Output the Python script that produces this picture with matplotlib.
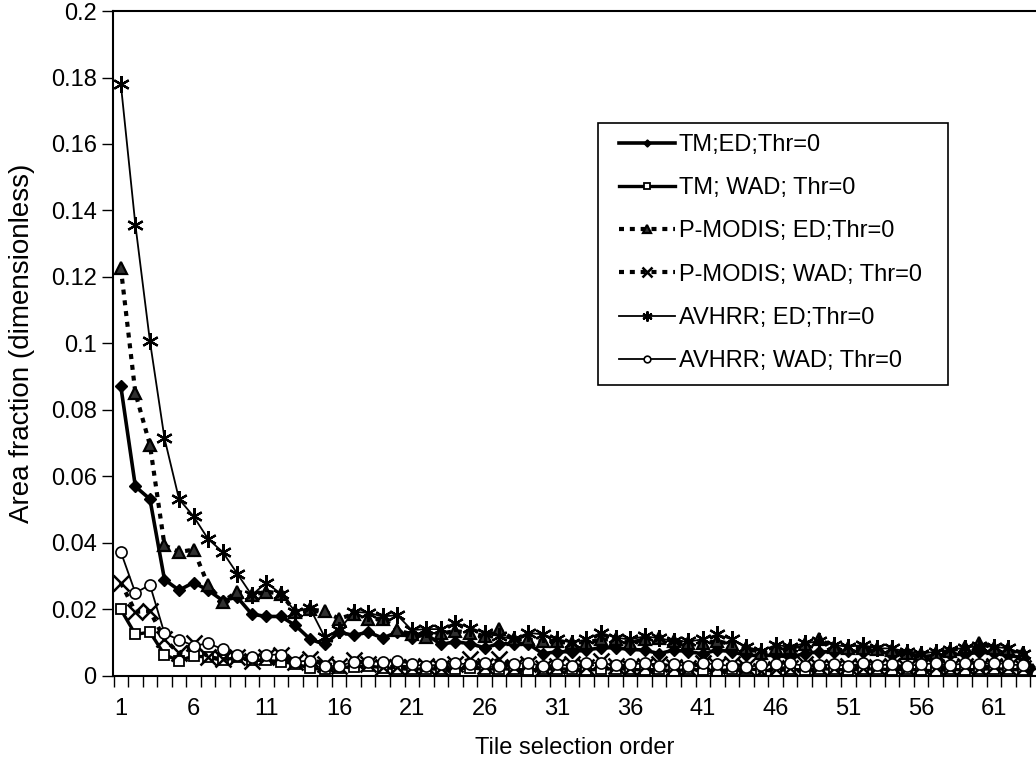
import numpy as np
import matplotlib
matplotlib.use('Agg')
import matplotlib.pyplot as plt
from matplotlib.patches import Rectangle

plt.rcParams['font.family'] = ['Liberation Sans', 'DejaVu Sans']

# area fraction per tile (64 tiles)
tm_ed = [0.0871, 0.057, 0.0532, 0.029, 0.0258, 0.0281, 0.0258, 0.0227, 0.0237, 0.0186,
         0.0179, 0.0179, 0.0152, 0.0111, 0.0095, 0.0132, 0.0122, 0.0132, 0.0114, 0.0132,
         0.0114, 0.0125, 0.0095, 0.0103, 0.0097, 0.0085, 0.0097, 0.0097, 0.0097, 0.0067,
         0.0073, 0.0073, 0.0078, 0.0085, 0.0085, 0.008, 0.0078, 0.0067, 0.0078, 0.0073,
         0.0067, 0.0078, 0.0073, 0.0062, 0.0062, 0.0062, 0.0057, 0.0067, 0.0073, 0.0073,
         0.0075, 0.0072, 0.0078, 0.0062, 0.0068, 0.0058, 0.0062, 0.0065, 0.0065, 0.0072,
         0.0068, 0.0062, 0.0055, 0.0008]
tm_wad = [0.020, 0.0125, 0.0132, 0.0064, 0.0046, 0.006, 0.0057, 0.0047, 0.0057, 0.0047,
          0.0047, 0.0043, 0.0037, 0.0023, 0.002, 0.0025, 0.0028, 0.003, 0.0025, 0.0022,
          0.002, 0.0022, 0.002, 0.002, 0.0025, 0.002, 0.0022, 0.002, 0.0018, 0.002,
          0.0022, 0.002, 0.0018, 0.002, 0.0022, 0.002, 0.0018, 0.002, 0.0015, 0.002,
          0.0018, 0.0015, 0.002, 0.0022, 0.0018, 0.0015, 0.002, 0.0018, 0.0022, 0.002,
          0.0018, 0.002, 0.0022, 0.0018, 0.002, 0.0018, 0.0015, 0.002, 0.0018, 0.002,
          0.0022, 0.002, 0.0018, 0.0003]
modis_ed = [0.1227, 0.0851, 0.0695, 0.0393, 0.0373, 0.038, 0.0274, 0.0223, 0.0254, 0.0243,
            0.0254, 0.0247, 0.0193, 0.020, 0.0195, 0.0172, 0.0186, 0.0172, 0.0172, 0.0138,
            0.0125, 0.0118, 0.0128, 0.0135, 0.013, 0.012, 0.014, 0.011, 0.011, 0.0105,
            0.0105, 0.010, 0.010, 0.011, 0.011, 0.010, 0.011, 0.0114, 0.0104, 0.010,
            0.0098, 0.0105, 0.0095, 0.0085, 0.007, 0.0085, 0.0083, 0.0095, 0.011, 0.0088,
            0.0085, 0.0085, 0.008, 0.0078, 0.007, 0.0065, 0.0068, 0.0075, 0.0088, 0.0098,
            0.0085, 0.008, 0.007, 0.001]
modis_wad = [0.0281, 0.0193, 0.0195, 0.0111, 0.0068, 0.0098, 0.0057, 0.005, 0.0057, 0.0046,
             0.0057, 0.0064, 0.0041, 0.005, 0.0037, 0.003, 0.0047, 0.0037, 0.0027, 0.0027,
             0.0027, 0.003, 0.0025, 0.0035, 0.005, 0.003, 0.005, 0.0028, 0.0035, 0.0025,
             0.003, 0.0035, 0.0028, 0.0045, 0.003, 0.0025, 0.003, 0.0035, 0.0028, 0.0025,
             0.004, 0.003, 0.0035, 0.0028, 0.0015, 0.002, 0.0025, 0.0035, 0.0028, 0.0025,
             0.003, 0.0025, 0.0028, 0.003, 0.0025, 0.003, 0.0028, 0.0025, 0.003, 0.0025,
             0.003, 0.0028, 0.0025, 0.0005]
avhrr_ed = [0.178, 0.1357, 0.1007, 0.0715, 0.0532, 0.048, 0.0412, 0.0373, 0.0308, 0.0243,
            0.0281, 0.0247, 0.0193, 0.0204, 0.0118, 0.0138, 0.0193, 0.019, 0.0179, 0.0183,
            0.0138, 0.0141, 0.0141, 0.016, 0.0145, 0.013, 0.012, 0.011, 0.013, 0.0125,
            0.011, 0.010, 0.011, 0.013, 0.0115, 0.011, 0.0119, 0.0114, 0.0104, 0.0104,
            0.011, 0.0125, 0.011, 0.0088, 0.0075, 0.0093, 0.0088, 0.0098, 0.0105, 0.0093,
            0.0088, 0.0093, 0.0083, 0.0083, 0.0073, 0.0067, 0.0073, 0.0078, 0.0085, 0.009,
            0.0088, 0.0083, 0.0067, 0.001]
avhrr_wad = [0.0373, 0.025, 0.0274, 0.0128, 0.0109, 0.0091, 0.0098, 0.0081, 0.0064, 0.0057,
             0.0064, 0.0064, 0.0043, 0.0046, 0.003, 0.003, 0.0043, 0.0043, 0.0043, 0.0046,
             0.0035, 0.003, 0.0035, 0.0038, 0.0035, 0.004, 0.003, 0.0035, 0.004, 0.003,
             0.0035, 0.003, 0.0038, 0.004, 0.0032, 0.0035, 0.0038, 0.003, 0.0035, 0.003,
             0.0038, 0.0035, 0.003, 0.0028, 0.0032, 0.0035, 0.0038, 0.003, 0.0032, 0.0035,
             0.003, 0.0038, 0.0032, 0.0035, 0.003, 0.0035, 0.0038, 0.0032, 0.0038, 0.0035,
             0.004, 0.0035, 0.0032, 0.0005]

labels = ['TM;ED;Thr=0', 'TM; WAD; Thr=0', 'P-MODIS; ED;Thr=0',
          'P-MODIS; WAD; Thr=0', 'AVHRR; ED;Thr=0', 'AVHRR; WAD; Thr=0']

order = np.arange(1, len(tm_ed) + 1)

fig = plt.figure(figsize=(10.36, 7.64), dpi=100)
ax = fig.add_axes([0.1094, 0.1152, 0.8906, 0.8704])

dash = (0, (1.2, 1.4))
ax.plot(order, tm_ed, '-', color='k', lw=2.6, marker='D', ms=6, mfc='k', label=labels[0])
ax.plot(order, tm_wad, '-', color='k', lw=2.4, marker='s', ms=7, mfc='white', mew=1.3, label=labels[1])
ax.plot(order, modis_ed, color='k', ls=dash, lw=3, marker='^', ms=9, mfc='#303030', mew=1.6, label=labels[2])
ax.plot(order, modis_wad, color='k', ls=dash, lw=3, marker='x', ms=11, mew=1.8, label=labels[3])
ax.plot(order, avhrr_ed, '-', color='k', lw=1.3, marker=(6, 2, 0), ms=12, mew=1.6, label=labels[4])
ax.plot(order, avhrr_wad, '-', color='k', lw=1.3, marker='o', ms=8, mfc='white', mew=1.2, label=labels[5])

ax.set_xlim(0.485, 63.9)
ax.set_ylim(0, 0.2)

ax.set_yticks(np.arange(0, 0.2001, 0.02))
ax.set_yticklabels([f'{round(v, 2):g}' for v in np.arange(0, 0.2001, 0.02)])
ax.set_xticks(np.arange(1, 62, 5))
ax.set_xticks(np.arange(0.5, 64, 1), minor=True)
ax.tick_params(axis='x', which='major', length=0, pad=16, labelsize=17)
ax.tick_params(axis='x', which='minor', length=8, direction='out', width=1)
ax.tick_params(axis='y', length=8, direction='out', width=1, pad=4, labelsize=17)

ax.spines['right'].set_visible(False)
for s in ('left', 'bottom', 'top'):
    ax.spines[s].set_linewidth(1.5)

ax.set_xlabel('Tile selection order', fontsize=17, labelpad=12)
ax.set_ylabel('Area fraction (dimensionless)', fontsize=20)
ax.yaxis.set_label_coords(-0.085, 0.5)

# legend entries without frame, box drawn separately
leg = fig.legend(loc='upper left', bbox_to_anchor=(0.5975, 0.8249), fontsize=17,
                 frameon=False, handlelength=2.37, labelspacing=0.9,
                 borderpad=0, handletextpad=0.15, borderaxespad=0, markerscale=0.6)
fig.add_artist(Rectangle((0.5772, 0.4961), 0.3378, 0.3429, transform=fig.transFigure,
                         fill=False, edgecolor='k', lw=1.2))

fig.savefig('out.png', dpi=100)
